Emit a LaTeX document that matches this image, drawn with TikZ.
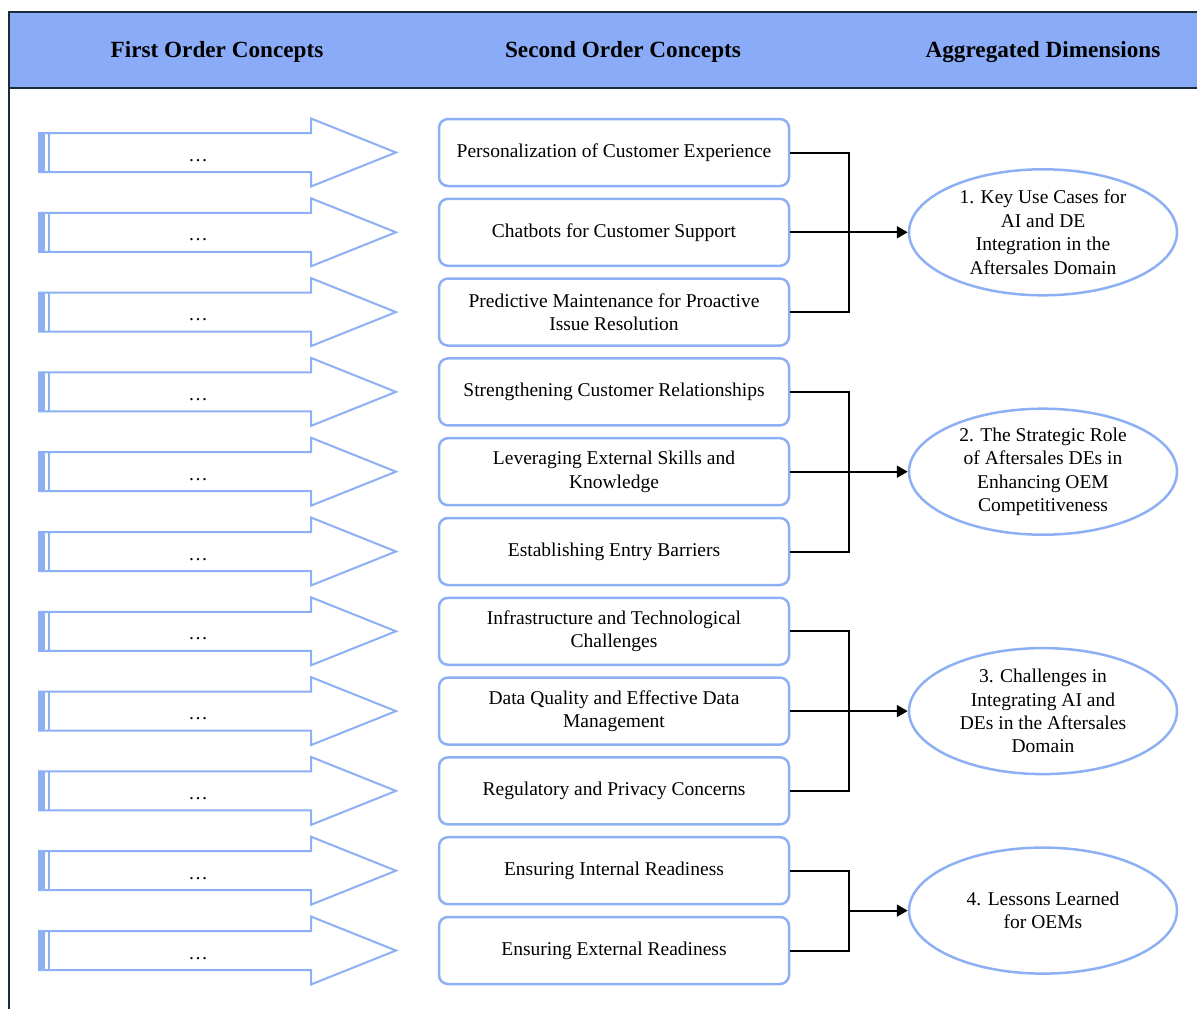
\documentclass[tikz,border=0pt]{standalone}
\usepackage{fontspec}
\setmainfont{Liberation Serif}
\usetikzlibrary{arrows.meta,shapes.geometric}
\definecolor{hdr}{HTML}{8AACF8}
\definecolor{bl}{HTML}{8DB0F5}
\definecolor{dk}{HTML}{1B2B3A}
\newcommand\myfs{\fontsize{19.5}{23.4}\selectfont}
\newcommand\myhfs{\fontsize{23.2}{26}\selectfont\bfseries}
\begin{document}
\begin{tikzpicture}[x=1pt,y=-1pt,
  box/.style={draw=bl,line width=2.5pt,rounded corners=9pt,minimum width=350pt,minimum height=67pt,align=center,font=\myfs,inner sep=0pt},
  oval/.style={ellipse,draw=bl,line width=2.5pt,minimum width=268pt,minimum height=126pt,align=center,font=\myfs,inner sep=0pt},
  hd/.style={font=\myhfs,inner sep=0pt},
  conn/.style={line width=2pt,black},
  tip/.style={conn,-{Triangle[length=11pt,width=12pt]}},
  dots/.style={font=\myfs,inner sep=0pt}
]
\useasboundingbox (0,0) rectangle (1197,1009);
% header band
\fill[hdr] (9,12) rectangle (1200,88);
\draw[dk,line width=2.5pt] (1200,12) -- (9,12) -- (9,1012);
\draw[dk,line width=2.5pt] (9,88) -- (1200,88);
\node[hd] (h1) at (217,52) {First Order Concepts};
\node[hd] (h2) at (623,52) {Second Order Concepts};
\node[hd] (h3) at (1043,52) {Aggregated Dimensions};
% first order arrows
\foreach \i in {0,...,10}{
  \pgfmathsetmacro\c{152.5+79.8*\i}
  \draw[bl,line width=2pt,fill=white] (39,\c-19.5) -- (311,\c-19.5) -- (311,\c-34) -- (396,\c) -- (311,\c+34) -- (311,\c+19.5) -- (39,\c+19.5) -- cycle;
  \fill[bl] (39,\c-19.5) rectangle (45,\c+19.5);
  \draw[bl,line width=2pt] (49,\c-19.5) -- (49,\c+19.5);
  \node[dots,anchor=base] (d\i) at (198,\c+8.5) {…};
}
% second order boxes
\node[box] (b1)  at (614,152.5) {Personalization of Customer Experience};
\node[box] (b2)  at (614,232.3) {Chatbots for Customer Support};
\node[box] (b3)  at (614,312.1) {Predictive Maintenance for Proactive\\Issue Resolution};
\node[box] (b4)  at (614,391.9) {Strengthening Customer Relationships};
\node[box] (b5)  at (614,471.7) {Leveraging External Skills and\\Knowledge};
\node[box] (b6)  at (614,551.5) {Establishing Entry Barriers};
\node[box] (b7)  at (614,631.3) {Infrastructure and Technological\\Challenges};
\node[box] (b8)  at (614,711.1) {Data Quality and Effective Data\\Management};
\node[box] (b9)  at (614,790.9) {Regulatory and Privacy Concerns};
\node[box] (b10) at (614,870.7) {Ensuring Internal Readiness};
\node[box] (b11) at (614,950.5) {Ensuring External Readiness};
% aggregated dimensions
\node[oval] (e1) at (1043,232.3) {1. Key Use Cases for\\AI and DE\\Integration in the\\Aftersales Domain};
\node[oval] (e2) at (1043,471.7) {2. The Strategic Role\\of Aftersales DEs in\\Enhancing OEM\\Competitiveness};
\node[oval] (e3) at (1043,711.1) {3. Challenges in\\Integrating AI and\\DEs in the Aftersales\\Domain};
\node[oval] (e4) at (1043,910.6) {4. Lessons Learned\\for OEMs};
% connectors
\draw[conn] (b1.east) -- (849,152.5) -- (849,312.1) -- (b3.east);
\draw[tip] (b2.east) -- (e1.west);
\draw[conn] (b4.east) -- (849,391.9) -- (849,551.5) -- (b6.east);
\draw[tip] (b5.east) -- (e2.west);
\draw[conn] (b7.east) -- (849,631.3) -- (849,790.9) -- (b9.east);
\draw[tip] (b8.east) -- (e3.west);
\draw[conn] (b10.east) -- (849,870.7) -- (849,950.5) -- (b11.east);
\coordinate (j4) at (849,910.6);
\draw[tip] (j4) -- (e4.west);
\end{tikzpicture}
\end{document}
